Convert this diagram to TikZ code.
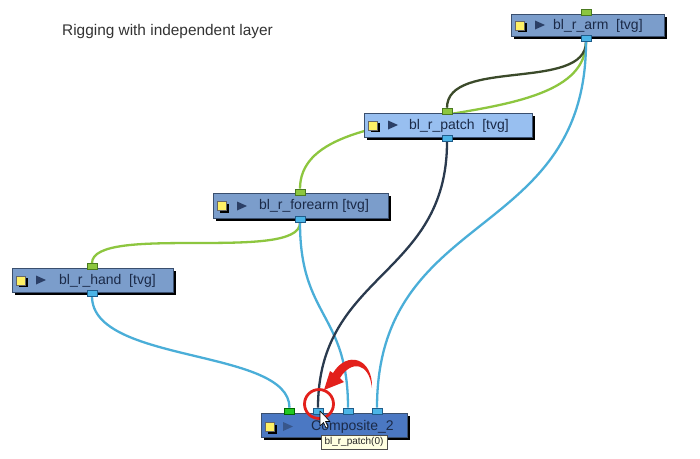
\documentclass[tikz,border=0pt]{standalone}
\usepackage{fontspec}
\setmainfont{Liberation Sans}
\usetikzlibrary{shadows,backgrounds,arrows.meta}
\definecolor{nodefill}{HTML}{7B9DCB}
\definecolor{selfill}{HTML}{98BFF0}
\definecolor{compfill}{HTML}{4B78C3}
\definecolor{nodeborder}{HTML}{3A4F6E}
\definecolor{nodetext}{HTML}{1B2A48}
\definecolor{trinavy}{HTML}{2B3F66}
\definecolor{portgreen}{HTML}{8CC63F}
\definecolor{portgreendk}{HTML}{4A7A20}
\definecolor{brightgreen}{HTML}{22C822}
\definecolor{portblue}{HTML}{4BB4E6}
\definecolor{portbluedk}{HTML}{1F5C8A}
\definecolor{linkgreen}{HTML}{8DC63F}
\definecolor{linkolive}{HTML}{3B4A2A}
\definecolor{linkblue}{HTML}{4AAED8}
\definecolor{linknavy}{HTML}{2A3A4E}
\definecolor{redc}{HTML}{E3201B}
\definecolor{tipfill}{HTML}{FFFFE1}
\definecolor{titlegray}{HTML}{333333}
\begin{document}
\begin{tikzpicture}[x=1pt,y=-1pt,
  nodebox/.style={rectangle, draw=nodeborder, line width=0.6pt, inner sep=0pt,
    drop shadow={shadow xshift=3pt, shadow yshift=-3pt, fill=black, opacity=1}},
  gport/.style={rectangle, minimum width=10pt, minimum height=6pt, inner sep=0pt,
    fill=portgreen, draw=portgreendk, line width=0.6pt},
  bport/.style={rectangle, minimum width=10pt, minimum height=6pt, inner sep=0pt,
    fill=portblue, draw=portbluedk, line width=0.6pt},
  yicon/.style={rectangle, minimum width=9pt, minimum height=9pt, inner sep=0pt,
    fill=yellow!90!orange!60, draw=black!60, line width=0.4pt,
    drop shadow={shadow xshift=2pt, shadow yshift=-2pt, fill=black, opacity=1}},
  lbl/.style={anchor=west, inner sep=0pt, text=nodetext, font=\fontsize{14}{16}\selectfont},
  link/.style={line width=2.3pt},
]
\useasboundingbox (0,0) rectangle (700,458);

% title
\node[anchor=base west, inner sep=0pt, text=titlegray, font=\fontsize{15.4}{18}\selectfont] (title) at (62,35) {Rigging with independent layer};

% node boxes
\node[nodebox, fill=nodefill, minimum width=153pt, minimum height=22pt] (arm) at (587.5,25) {};
\node[nodebox, fill=selfill, minimum width=168pt, minimum height=24pt] (patch) at (448,125) {};
\node[nodebox, fill=nodefill, minimum width=175pt, minimum height=25pt] (forearm) at (300.5,205.5) {};
\node[nodebox, fill=nodefill, minimum width=161pt, minimum height=24pt] (hand) at (92.5,280) {};
\node[nodebox, fill=compfill, minimum width=146pt, minimum height=24pt] (comp) at (334,425) {};

% icons
\node[yicon] (armicon) at (520,25.5) {};
\fill[trinavy] (535,20.5) -- (545,25) -- (535,29.5) -- cycle;
\node[yicon] (patchicon) at (373,125.5) {};
\fill[trinavy] (388,120.5) -- (398,125) -- (388,129.5) -- cycle;
\node[yicon] (forearmicon) at (222,206) {};
\fill[trinavy] (237,201.5) -- (247,206) -- (237,210.5) -- cycle;
\node[yicon] (handicon) at (21,280.5) {};
\fill[trinavy] (36,275.5) -- (46,280) -- (36,284.5) -- cycle;
\node[yicon] (compicon) at (270,427) {};
\fill[trinavy!60!compfill] (283,422) -- (293,426.5) -- (283,431) -- cycle;

% labels
\node[lbl] (armtxt) at (553,25.5) {bl\_r\_arm\ \ [tvg]};
\node[lbl] (patchtxt) at (409,125.5) {bl\_r\_patch\ \ [tvg]};
\node[lbl] (forearmtxt) at (259,206) {bl\_r\_forearm [tvg]};
\node[lbl] (handtxt) at (59,280.5) {bl\_r\_hand\ \ [tvg]};
\node[lbl] (comptxt) at (311,426.5) {Composite\_2};

% ports
\node[gport] (armin) at (586,12.5) {};
\node[bport] (armout) at (586,38.5) {};
\node[gport] (patchin) at (447,111) {};
\node[bport] (patchout) at (447,138.5) {};
\node[gport] (forearmin) at (300,192) {};
\node[bport] (forearmout) at (300,219.5) {};
\node[gport] (handin) at (92,266.5) {};
\node[bport] (handout) at (92,293) {};
\node[gport, fill=brightgreen, draw=green!40!black] (compin1) at (289.5,411) {};
\node[bport] (compin2) at (318,411) {};
\node[bport] (compin3) at (348,411) {};
\node[bport] (compin4) at (377,411) {};

% links
\begin{scope}[on background layer]
  \fill[white] (0,0) rectangle (700,458);
  \draw[link, linkgreen] (armout.south) .. controls +(0,100) and +(0,-100) .. (forearmin.north);
  \draw[link, linkolive] (armout.south) .. controls +(0,50) and +(0,-50) .. (patchin.north);
  \draw[link, linkgreen] (forearmout.south) .. controls +(0,40) and +(0,-40) .. (handin.north);
  \draw[link, linkblue] (armout.south) .. controls +(0,200) and +(0,-200) .. (compin4.north);
  \draw[link, linkblue] (forearmout.south) .. controls +(0,95) and +(0,-95) .. (compin3.north);
  \draw[link, linkblue] (handout.south) .. controls +(0,68) and +(0,-60) .. (compin1.north);
  \draw[link, linknavy] (patchout.south) .. controls +(0,135) and +(0,-135) .. (compin2.north);
\end{scope}

% red annotation
\draw[redc, line width=2.8pt] (319,404) circle[radius=14.5];
\fill[redc] (372,388) .. controls (373,358) and (347,350) .. (333,373)
  -- (330,371) -- (324,390) -- (344,382) -- (340,378)
  .. controls (351,360) and (369,362) .. (372,388) -- cycle;

% cursor
\draw[fill=white, draw=black, line width=0.6pt, line join=round] (320,411) -- ++(0,15) -- ++(3.5,-3.5) -- ++(2.5,5.5) -- ++(2,-1) -- ++(-2.5,-5.5) -- ++(4.5,0) -- cycle;

% tooltip
\node[rectangle, fill=tipfill, draw=black!70, line width=0.5pt, minimum width=66pt, minimum height=14pt, inner sep=1pt, text=black!85, font=\fontsize{10}{12}\selectfont] (tip) at (354,442) {bl\_r\_patch(0)};
\end{tikzpicture}
\end{document}
